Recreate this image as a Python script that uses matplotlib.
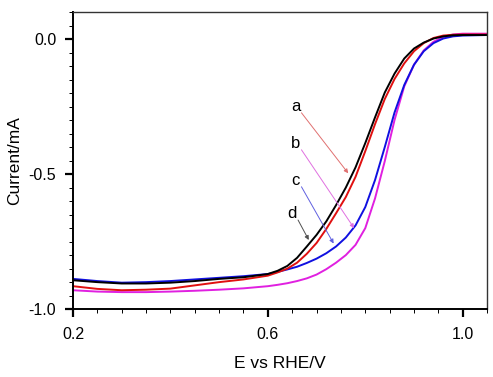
import matplotlib
matplotlib.use("Agg")
import matplotlib.pyplot as plt
from matplotlib.ticker import MultipleLocator, FixedLocator, FormatStrFormatter

plt.rcParams['font.family'] = ['Liberation Sans', 'DejaVu Sans']

# potential grid (V vs RHE)
E = [0.20, 0.25, 0.30, 0.35, 0.40, 0.45, 0.50, 0.55, 0.60, 0.62, 0.64, 0.66,
     0.68, 0.70, 0.72, 0.74, 0.76, 0.78, 0.80, 0.82, 0.84, 0.86, 0.88, 0.90,
     0.92, 0.94, 0.96, 0.98, 1.00, 1.05]

# currents (mA)
i_black = [-0.893, -0.900, -0.905, -0.905, -0.902, -0.896, -0.888, -0.882, -0.870, -0.858,
           -0.840, -0.810, -0.768, -0.725, -0.675, -0.615, -0.550, -0.475, -0.385, -0.290,
           -0.198, -0.128, -0.072, -0.035, -0.013, 0.002, 0.010, 0.014, 0.015, 0.015]
i_red = [-0.915, -0.925, -0.930, -0.928, -0.924, -0.912, -0.900, -0.890, -0.876, -0.864,
         -0.850, -0.828, -0.795, -0.755, -0.703, -0.645, -0.585, -0.510, -0.415, -0.315,
         -0.222, -0.148, -0.090, -0.045, -0.015, 0.004, 0.013, 0.016, 0.017, 0.017]
i_blue = [-0.888, -0.896, -0.902, -0.900, -0.896, -0.890, -0.884, -0.878, -0.870, -0.862,
          -0.853, -0.843, -0.829, -0.813, -0.793, -0.768, -0.735, -0.690, -0.622, -0.522,
          -0.400, -0.272, -0.170, -0.095, -0.045, -0.015, 0.002, 0.010, 0.013, 0.015]
i_magenta = [-0.930, -0.935, -0.937, -0.937, -0.935, -0.932, -0.928, -0.923, -0.915, -0.910,
             -0.904, -0.896, -0.886, -0.872, -0.852, -0.828, -0.800, -0.762, -0.700, -0.590,
             -0.452, -0.300, -0.175, -0.095, -0.042, -0.010, 0.008, 0.017, 0.020, 0.020]

labels = ["a", "b", "c", "d"]

fig = plt.figure(figsize=(4.93, 3.77), dpi=100)
ax = fig.add_axes([0.148, 0.180, 0.840, 0.788])

ax.plot(E, i_magenta, color="#e020e0", lw=1.4)
ax.plot(E, i_blue, color="#1010e0", lw=1.4)
ax.plot(E, i_red, color="#e01010", lw=1.4)
ax.plot(E, i_black, color="black", lw=1.4)

# labels with pointer lines
ptr = [((0.657, -0.248), (0.765, -0.497), "#e07070"),
       ((0.657, -0.385), (0.777, -0.700), "#e070e0"),
       ((0.657, -0.522), (0.735, -0.757), "#6060e0"),
       ((0.650, -0.645), (0.684, -0.744), "#505050")]
for lab, (txt, tip, c) in zip(labels, ptr):
    ax.text(txt[0], txt[1], lab, fontsize=12, ha="center", va="center")
    ax.annotate("", xy=tip, xytext=(txt[0] + 0.012, txt[1] - 0.025),
                arrowprops=dict(arrowstyle="-|>", color=c, lw=0.7,
                                mutation_scale=6, shrinkA=0, shrinkB=0))

ax.set_xlim(0.2, 1.05)
ax.set_ylim(-1.0, 0.1)
ax.xaxis.set_major_locator(FixedLocator([0.2, 0.6, 1.0]))
ax.xaxis.set_minor_locator(MultipleLocator(0.05))
ax.yaxis.set_major_locator(FixedLocator([-1.0, -0.5, 0.0]))
ax.yaxis.set_minor_locator(MultipleLocator(0.05))
ax.tick_params(which="major", direction="out", length=6, width=1.6, labelsize=11.5)
ax.tick_params(which="minor", direction="out", length=3, width=0.7)
ax.tick_params(axis="x", which="major", pad=7)
ax.tick_params(axis="y", which="major", pad=6)
ax.xaxis.set_major_formatter(FormatStrFormatter("%.1f"))
ax.yaxis.set_major_formatter(FormatStrFormatter("%.1f"))

for s in ["left", "bottom"]:
    ax.spines[s].set_linewidth(1.4)
for s in ["top", "right"]:
    ax.spines[s].set_linewidth(1.0)
    ax.spines[s].set_color("#333333")

ax.set_xlabel("E vs RHE/V", fontsize=12.5, labelpad=10)
ax.set_ylabel("Current/mA", fontsize=12.5, labelpad=5)

fig.savefig("out.png", dpi=100)
